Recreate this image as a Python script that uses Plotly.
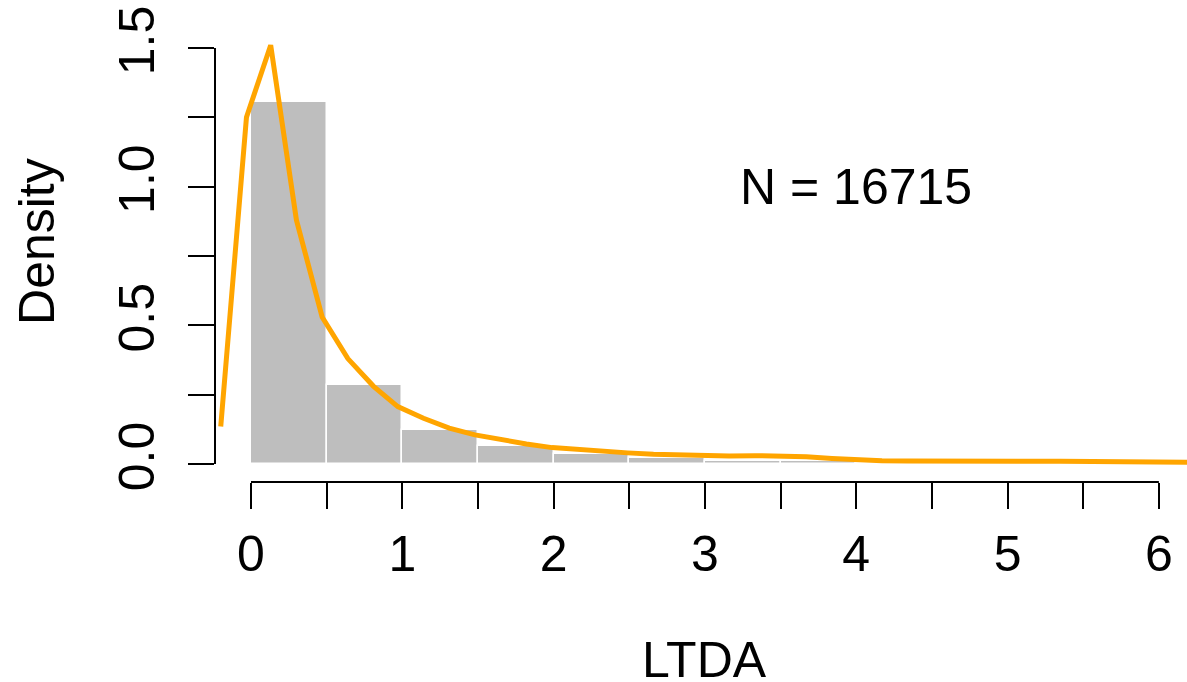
import plotly.graph_objects as go

# Histogram (density) bins of width 0.5
bin_left = [0.0, 0.5, 1.0, 1.5, 2.0, 2.5, 3.0, 3.5, 4.0, 4.5, 5.0, 5.5]
bin_density = [1.305, 0.285, 0.123, 0.065, 0.037, 0.021, 0.011, 0.010, 0.004, 0.003, 0.003, 0.002]
bin_width = 0.5

# Kernel density curve
dens_x = [-0.20, -0.03, 0.13, 0.30, 0.47, 0.64, 0.81, 0.97, 1.14, 1.31, 1.48, 1.65, 1.82,
          1.99, 2.15, 2.32, 2.49, 2.66, 2.83, 3.00, 3.16, 3.33, 3.50, 3.67, 3.84, 4.01,
          4.17, 4.34, 4.51, 4.68, 4.85, 5.02, 5.18, 5.35, 5.52, 5.69, 5.86, 6.03, 6.20]
dens_y = [0.135, 1.25, 1.51, 0.88, 0.53, 0.38, 0.28, 0.207, 0.165, 0.129, 0.105, 0.088, 0.072,
          0.059, 0.052, 0.046, 0.040, 0.035, 0.032, 0.029, 0.029, 0.030, 0.029, 0.026, 0.020, 0.014,
          0.012, 0.011, 0.010, 0.011, 0.012, 0.011, 0.010, 0.010, 0.009, 0.008, 0.007, 0.006, 0.006]

x_tickvals = [0, 0.5, 1, 1.5, 2, 2.5, 3, 3.5, 4, 4.5, 5, 5.5, 6]
x_ticktext = ["0", "", "1", "", "2", "", "3", "", "4", "", "5", "", "6"]
y_tickvals = [0, 0.25, 0.5, 0.75, 1.0, 1.25, 1.5]
y_ticktext = ["0.0", "", "0.5", "", "1.0", "", "1.5"]

n_label = "N = 16715"

FONT = "Liberation Sans, Arial, Helvetica, sans-serif"

fig = go.Figure()
fig.add_trace(go.Bar(
    x=[b + bin_width / 2 for b in bin_left],
    y=bin_density,
    width=bin_width,
    marker=dict(color="#BEBEBE", line=dict(color="white", width=1.5)),
    showlegend=False,
))
fig.add_trace(go.Scatter(
    x=dens_x, y=dens_y, mode="lines",
    line=dict(color="#FFA500", width=5),
    showlegend=False,
))

# detached R-style axis lines
fig.add_shape(type="line", xref="x", yref="paper", x0=0, x1=6, y0=0, y1=0,
              line=dict(color="black", width=2))
fig.add_shape(type="line", xref="paper", yref="y", x0=0, x1=0, y0=0, y1=1.5,
              line=dict(color="black", width=2))

fig.add_annotation(x=4.0, y=1.0, xref="x", yref="y", text=n_label, showarrow=False,
                   xanchor="center", yanchor="middle",
                   font=dict(family=FONT, size=50, color="black"))
fig.add_annotation(x=-0.183, y=0.529, xref="paper", yref="paper", text="Density",
                   textangle=-90, showarrow=False, xanchor="center", yanchor="middle",
                   font=dict(family=FONT, size=50, color="black"))
fig.add_annotation(x=0.504, y=-0.392, xref="paper", yref="paper", text="LTDA",
                   showarrow=False, xanchor="center", yanchor="middle",
                   font=dict(family=FONT, size=50, color="black"))

fig.update_layout(
    width=1187, height=682,
    margin=dict(l=215, r=0, t=28, b=200),
    plot_bgcolor="white", paper_bgcolor="white",
    bargap=0,
    font=dict(family=FONT, size=50, color="black"),
    xaxis=dict(range=[-0.238, 6.186], tickvals=x_tickvals, ticktext=x_ticktext,
               ticks="outside", ticklen=26, tickwidth=2, tickcolor="black",
               showgrid=False, zeroline=False, showline=False,
               tickfont=dict(family=FONT, size=50), ticklabelstandoff=2),
    yaxis=dict(range=[-0.065, 1.572], tickvals=y_tickvals, ticktext=y_ticktext,
               ticks="outside", ticklen=26, tickwidth=2, tickcolor="black",
               showgrid=False, zeroline=False, showline=False, tickangle=-90,
               tickfont=dict(family=FONT, size=50), ticklabelstandoff=14),
)

fig.write_html("out.html")
